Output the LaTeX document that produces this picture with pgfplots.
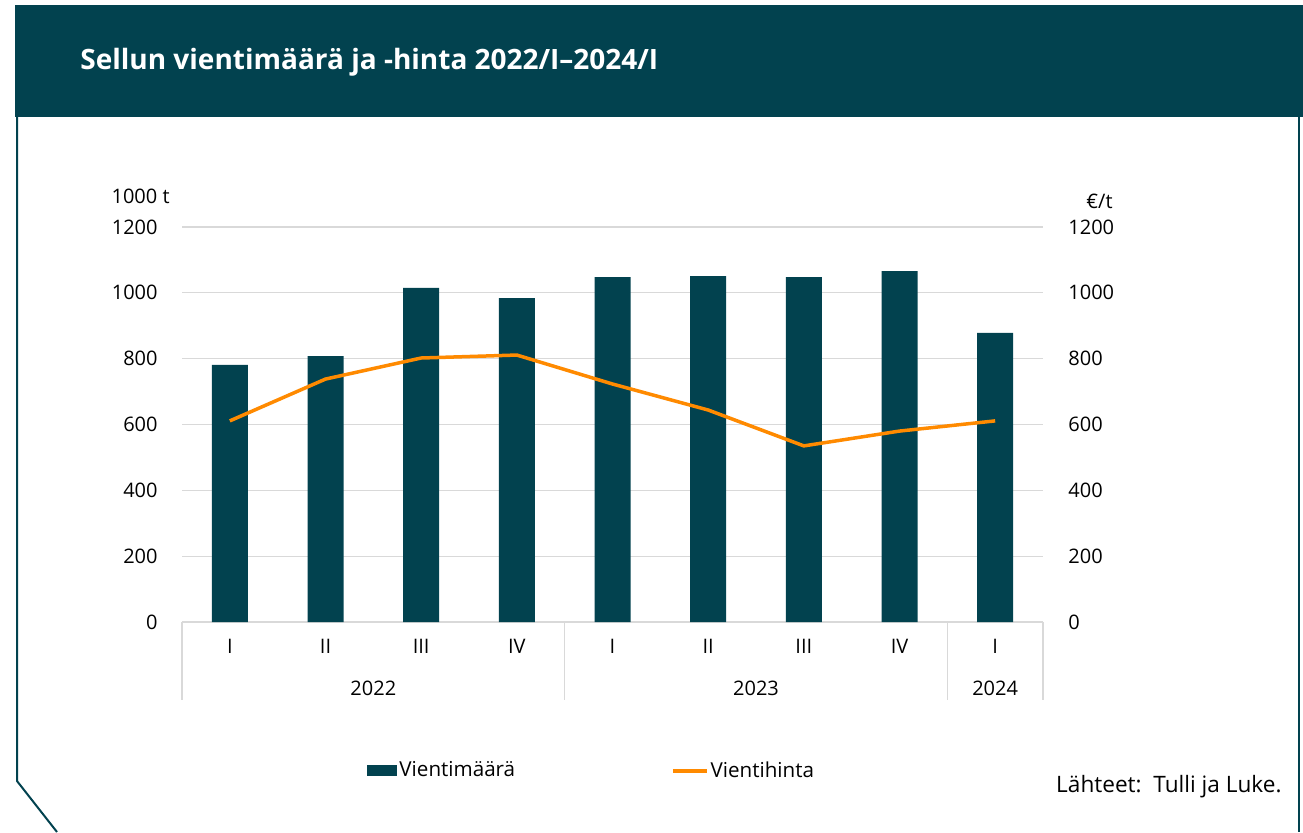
\documentclass[border=0pt]{standalone}
\usepackage{fontspec}
\setmainfont{Open Sans}
\usepackage{pgfplots}
\pgfplotsset{compat=1.18}

\definecolor{lukeTeal}{HTML}{02424F}
\definecolor{lukeOrange}{HTML}{FF8A00}
\definecolor{gridgray}{HTML}{D9D9D9}

\pgfplotsset{
  base/.style={
    at={(91pt,105pt)}, anchor=south west, scale only axis,
    width=430.5pt, height=197.5pt,
    xmin=-0.5, xmax=8.5, ymin=0, ymax=1200,
    ytick={0,200,...,1200},
    major tick length=0pt,
    tick label style={font=\fontsize{10}{12}\selectfont, text=black},
    /pgf/number format/assume math mode=true,
    /pgf/number format/1000 sep={},
    clip=false,
  }
}

\begin{document}
\begin{tikzpicture}[x=0.5pt,y=0.5pt]
\path[use as bounding box] (0,0) rectangle (1303,832);
% header band and frame
\fill[lukeTeal] (15,715) rectangle (1303,827);
\draw[lukeTeal, line width=1pt] (17,715) -- (17,51) -- (57,0);
\draw[lukeTeal, line width=1pt] (1299,715) -- (1299,0);
\node[anchor=west, inner sep=0pt, text=white, font=\fontsize{14}{16}\selectfont\bfseries]
  at (80,770) {Sellun vientimäärä ja -hinta 2022/I–2024/I};

\begin{axis}[base,
  axis x line*=bottom, axis y line*=left,
  y axis line style={draw=none},
  x axis line style={draw=gridgray, line width=0.75pt},
  xtick={0,...,8},
  xticklabels={I,II,III,IV,I,II,III,IV,I},
  ymajorgrids, grid style={gridgray, line width=0.6pt},
  yticklabel style={anchor=east, inner sep=0pt, xshift=-12pt},
  xticklabel style={anchor=center, inner sep=0pt, yshift=-12pt},
  legend columns=2,
  legend style={at={(0.208,-0.377)}, anchor=west, draw=none,
    font=\fontsize{10.3}{12}\selectfont,
    nodes={inner sep=1pt},
    /tikz/every even column/.append style={column sep=77pt}},
]
\addplot[ybar, bar width=18pt, fill=lukeTeal, draw=none,
  legend image code/.code={\fill[lukeTeal] (0pt,-2.75pt) rectangle (15pt,2.75pt);}]
  coordinates {
    (0,781) (1,808) (2,1015) (3,984) (4,1048)
    (5,1051) (6,1048) (7,1066) (8,878)
  };
\addlegendentry{Vientimäärä}
\addlegendimage{legend image code/.code={\draw[lukeOrange, line width=1.75pt] (0pt,0pt) -- (17pt,0pt);}}
\addlegendentry{Vientihinta}

% year groups below the axis
\draw[gridgray, line width=0.75pt] (axis cs:-0.5,0) -- ++(0pt,-39pt);
\draw[gridgray, line width=0.75pt] (axis cs:3.5,0) -- ++(0pt,-39pt);
\draw[gridgray, line width=0.75pt] (axis cs:7.5,0) -- ++(0pt,-39pt);
\draw[gridgray, line width=0.75pt] (axis cs:8.5,0) -- ++(0pt,-39pt);
\node[font=\fontsize{10}{12}\selectfont] at ([yshift=-33pt]axis cs:1.5,0) {2022};
\node[font=\fontsize{10}{12}\selectfont] at ([yshift=-33pt]axis cs:5.5,0) {2023};
\node[font=\fontsize{10}{12}\selectfont] at ([yshift=-33pt]axis cs:8,0) {2024};
\end{axis}

\begin{axis}[base,
  axis x line=none, axis y line*=right,
  y axis line style={draw=none},
  yticklabel style={anchor=west, inner sep=0pt, xshift=12.5pt},
]
\addplot[lukeOrange, line width=1.75pt, mark=none]
  coordinates {
    (0,611) (1,738) (2,802) (3,811) (4,723)
    (5,644) (6,535) (7,580) (8,611)
  };
\end{axis}

\node[anchor=east, inner sep=0pt, font=\fontsize{10}{12}\selectfont] at (170,636) {1000 t};
\node[anchor=east, inner sep=0pt, font=\fontsize{10}{12}\selectfont] at (1113,631) {€/t};
\node[anchor=east, inner sep=0pt, font=\fontsize{11.3}{13}\selectfont] at (1282,45) {Lähteet:\ \ Tulli ja Luke.};
\end{tikzpicture}
\end{document}
